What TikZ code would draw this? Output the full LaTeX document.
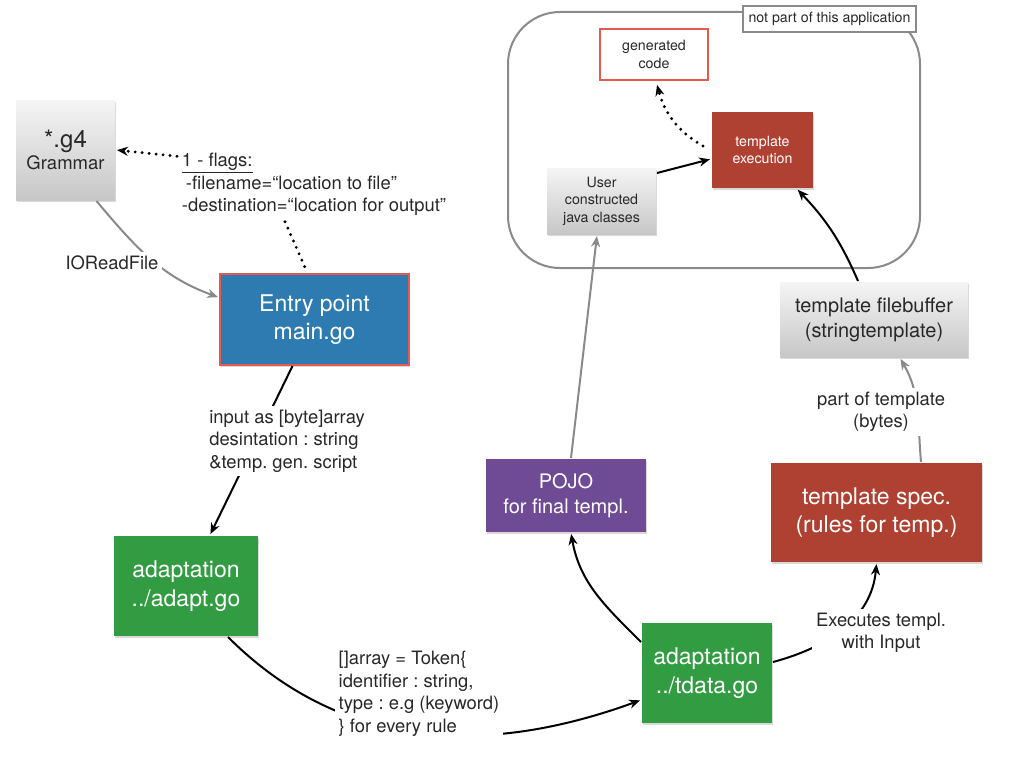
\documentclass[tikz,border=0pt]{standalone}
\usepackage{fontspec}
\setmainfont{TeX Gyre Heros}
\usetikzlibrary{positioning,arrows.meta,shadows}
\frenchspacing

\definecolor{entryblue}{RGB}{46,123,177}
\definecolor{edgered}{RGB}{228,90,80}
\definecolor{adaptgreen}{RGB}{50,156,66}
\definecolor{pojopurple}{RGB}{111,74,149}
\definecolor{specred}{RGB}{175,65,50}
\definecolor{linegray}{RGB}{138,138,138}
\definecolor{textgray}{RGB}{40,40,40}

\begin{document}
\begin{tikzpicture}[x=1pt,y=-1pt,->,>={Stealth[length=11pt,width=9pt]},shorten >=1pt,line width=2pt,on grid,
		box/.style={inner sep=0pt,align=center,text=white,drop shadow={shadow xshift=1pt,shadow yshift=-2pt,opacity=.3}},
		graybox/.style={box,text=textgray,top color=white!96!black,bottom color=white!78!black},
		bigtext/.style={font=\fontsize{23}{28.5}\selectfont},
		podtext/.style={font=\fontsize{20}{25}\selectfont},
		midtext/.style={font=\fontsize{18.4}{22.5}\selectfont},
		smalltext/.style={font=\fontsize{14.2}{17.5}\selectfont},
		lbl/.style={midtext,text=textgray,fill=white,inner sep=4pt},
		dots/.style={line width=3.2pt,line cap=round,dash pattern=on 0pt off 7pt},
		grayline/.style={color=linegray}]
	\useasboundingbox (0,0) rectangle (1024,768);
	\draw[-,linegray,rounded corners=52pt] (508,12) rectangle (920,268);
	\node[draw=linegray,fill=white,smalltext,text=textgray,minimum width=173pt,minimum height=26pt,inner sep=0pt] (note) at (829.5,19) {not part of this application};
	\node[graybox,font=\fontsize{18.5}{22}\selectfont,minimum width=99pt,minimum height=100pt] (g4) at (65.5,150) {{\fontsize{24}{24}\selectfont *.g4}\\Grammar};
	\node[box,bigtext,fill=entryblue,draw=edgered,minimum width=189pt,minimum height=91pt] (entry) [below right=169.5pt and 249pt of g4] {Entry point\\main.go};
	\node[box,bigtext,fill=adaptgreen,minimum width=144pt,minimum height=100pt] (adapt) [below left=266.5pt and 128.5pt of entry] {adaptation\\../adapt.go};
	\node[box,bigtext,fill=adaptgreen,minimum width=130pt,minimum height=100pt] (tdata) [below right=87pt and 521pt of adapt] {adaptation\\../tdata.go};
	\node[box,podtext,fill=pojopurple,minimum width=160pt,minimum height=73pt] (pojo) [above left=177.5pt and 141pt of tdata] {POJO\\for final templ.};
	\node[box,bigtext,fill=specred,minimum width=211pt,minimum height=99pt] (spec) [above right=160.5pt and 169.5pt of tdata] {template spec.\\(rules for temp.)};
	\node[graybox,podtext,minimum width=188pt,minimum height=75pt] (buffer) [above left=193pt and 2.5pt of spec] {template filebuffer\\(stringtemplate)};
	\node[box,smalltext,fill=specred,minimum width=101pt,minimum height=76pt] (exec) [above left=169.5pt and 111.5pt of buffer] {template\\execution};
	\node[graybox,smalltext,minimum width=109pt,minimum height=66pt] (user) [below left=51pt and 161pt of exec] {User\\constructed\\java classes};
	\node[draw=edgered,fill=white,smalltext,text=textgray,align=center,minimum width=108pt,minimum height=51pt,inner sep=0pt] (gen) [above left=95.5pt and 108.5pt of exec] {generated\\code};
	\node[midtext,text=textgray,align=left,inner sep=0pt] (flags) at (314,184.5) {\underline{1 - flags:}\\\hspace{4pt}-filename=“location to file”\\-destination=“location for output”};
	\path[dots]
		([xshift=-4pt,yshift=-4pt]flags.north west) edge (g4.east)
		([xshift=-29pt,yshift=-5pt]flags.south) edge[-] ([xshift=-7pt]entry.north)
		([xshift=-8pt,yshift=4pt]exec.west) edge[out=150,in=-75,shorten >=4pt] ([xshift=2pt]gen.south);
	\path
		([xshift=-22pt]entry.south) edge ([xshift=24pt]adapt.north)
		([xshift=42pt]adapt.south) edge[out=-45,in=200] ([yshift=-27pt]tdata.west)
		([yshift=31pt]tdata.west) edge[out=135,in=-80] ([xshift=5pt]pojo.south)
		([yshift=11pt]tdata.east) edge[out=15,in=-95] (spec.south)
		([xshift=-16pt]buffer.north) edge[bend right=10] ([xshift=34.5pt]exec.south)
		([yshift=28pt]user.east) edge ([yshift=-9pt]exec.west);
	\path[grayline]
		([xshift=31pt]g4.south) edge[out=-50,in=160] ([yshift=22pt]entry.west)
		([xshift=5pt]pojo.north) edge ([xshift=-4.5pt]user.south)
		([xshift=44.5pt]spec.north) edge[out=95,in=-60] ([xshift=26pt]buffer.south);
	\node[lbl] (ioread) at (112,263) {IOReadFile};
	\node[lbl,align=left] (input) at (287,441) {input as [byte]array\\desintation : string\\\&temp. gen. script};
	\node[lbl,align=left] (token) at (419,694) {[]array = Token\{\\identifier : string,\\type : e.g (keyword)\\\} for every rule};
	\node[lbl,align=center] (execin) at (881,633) {Executes templ.\\with Input};
	\node[lbl,align=center] (part) at (881,412) {part of template\\(bytes)};
\end{tikzpicture}
\end{document}
